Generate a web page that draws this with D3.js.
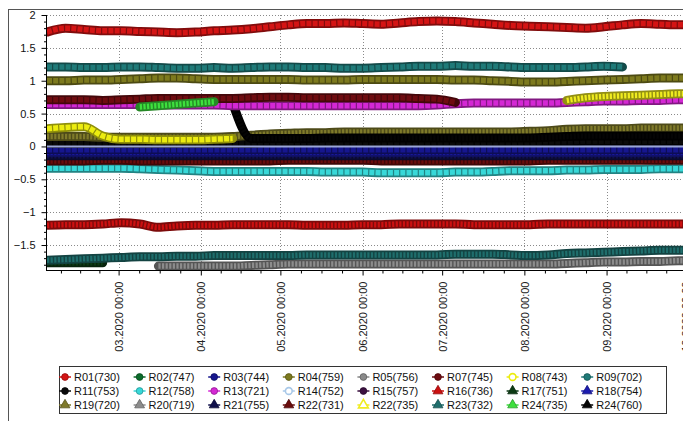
<!DOCTYPE html>
<html>
<head>
<meta charset="utf-8">
<script src="https://cdn.jsdelivr.net/npm/d3@7"></script>
<style>
body { margin: 0; background: #fff; }
svg { display: block; font-family: "Liberation Sans", Arial, sans-serif; }
</style>
</head>
<body>
<svg id="chart" width="683" height="421"></svg>
<script>
"use strict";

// weekly sample dates
var dates = ["2020-02-03","2020-02-10","2020-02-17","2020-02-24","2020-03-02","2020-03-09","2020-03-16","2020-03-23","2020-03-30",
	"2020-04-06","2020-04-13","2020-04-20","2020-04-27","2020-05-04","2020-05-11","2020-05-18","2020-05-25","2020-06-01",
	"2020-06-08","2020-06-15","2020-06-22","2020-06-29","2020-07-06","2020-07-13","2020-07-20","2020-07-27","2020-08-03",
	"2020-08-10","2020-08-17","2020-08-24","2020-08-31","2020-09-07","2020-09-14","2020-09-21","2020-09-28","2020-10-05"];

var r01 = [1.74,1.80,1.78,1.76,1.76,1.75,1.74,1.73,1.74,1.76,1.77,1.79,1.82,1.85,1.87,1.87,1.88,1.87,1.86,1.88,
	1.90,1.91,1.90,1.88,1.86,1.84,1.83,1.82,1.81,1.80,1.82,1.85,1.87,1.86,1.85,1.85];
var r09 = [1.21,1.21,1.20,1.20,1.21,1.21,1.20,1.19,1.19,1.20,1.19,1.20,1.21,1.21,1.20,1.20,1.19,1.19,1.20,1.21,
	1.22,1.22,1.23,1.22,1.22,1.21,1.20,1.20,1.20,1.21,1.22,1.21,null,null,null,null];
var r04 = [1.00,1.00,1.01,1.01,1.02,1.03,1.04,1.04,1.03,1.02,1.02,1.02,1.02,1.02,1.01,1.01,1.01,1.02,1.02,1.02,
	1.02,1.02,1.01,1.01,1.00,0.99,0.98,0.98,0.99,1.00,1.01,1.02,1.03,1.04,1.04,1.04];
var r07 = [0.71,0.71,0.71,0.70,0.71,0.72,0.73,0.73,0.73,0.73,0.73,0.74,0.75,0.75,0.74,0.74,0.74,0.74,0.74,0.74,
	0.73,0.72,0.67,null,null,null,null,null,null,null,null,null,null,null,null,null];
var r13 = [0.64,0.64,0.64,0.64,0.64,0.64,0.63,0.63,0.63,0.63,0.62,0.62,0.62,0.62,0.62,0.62,0.62,0.62,0.62,0.62,
	0.62,0.63,0.65,0.66,0.66,0.66,0.66,0.66,0.67,0.68,0.69,0.69,0.70,0.70,0.71,0.71];
var r24a = [null,null,null,null,null,0.60,0.62,0.64,0.66,0.68,null,null,null,null,null,null,null,null,null,null,
	null,null,null,null,null,null,null,null,null,null,null,null,null,null,null,null];
var r24b = [null,null,null,null,null,null,null,null,null,null,0.66,0.12,0.12,0.12,0.12,0.13,0.13,0.13,0.13,0.13,
	0.13,0.13,0.13,0.13,0.13,0.13,0.13,0.14,0.15,0.16,0.16,0.16,0.16,0.16,0.16,0.16];
var r11 = [0.05,0.05,0.05,0.05,0.05,0.05,0.05,0.05,0.05,0.05,0.05,0.05,0.06,0.06,0.06,0.06,0.06,0.06,0.06,0.06,
	0.06,0.06,0.06,0.06,0.06,0.06,0.06,0.07,0.07,0.08,0.08,0.08,0.08,0.08,0.08,0.08];
var r08 = [0.27,0.29,0.30,0.16,0.11,0.11,0.10,0.10,0.10,0.11,0.12,null,null,null,null,null,null,null,null,null,
	null,null,null,null,null,null,null,null,null,null,null,null,null,null,null,null];
var r22b = [null,null,null,null,null,null,null,null,null,null,null,null,null,null,null,null,null,null,null,null,
	null,null,null,null,null,null,null,null,0.70,0.74,0.76,0.77,0.78,0.79,0.80,0.80];
var r19 = [0.15,0.15,0.15,0.14,0.14,0.14,0.14,0.14,0.14,0.14,0.15,0.17,0.19,0.20,0.21,0.21,0.22,0.22,0.22,0.22,
	0.22,0.22,0.22,0.22,0.22,0.22,0.23,0.24,0.26,0.27,0.27,0.27,0.28,0.28,0.28,0.28];
var r14 = [0,0,0,0,0,0,0,0,0,0,0,0,0,0,0,0,0,0,0,0,0,0,0,0,0,0,0,0,0,0,0,0,0,0,0,0];
var r03 = [-0.05,-0.05,-0.05,-0.05,-0.05,-0.05,-0.05,-0.05,-0.05,-0.05,-0.05,-0.05,-0.05,-0.05,-0.05,-0.05,-0.05,-0.05,
	-0.05,-0.05,-0.05,-0.05,-0.05,-0.05,-0.05,-0.05,-0.05,-0.05,-0.05,-0.05,-0.05,-0.05,-0.05,-0.05,-0.05,-0.05];
var r18 = [-0.09,-0.09,-0.09,-0.09,-0.09,-0.09,-0.09,-0.09,-0.09,-0.09,-0.09,-0.09,-0.09,-0.09,-0.09,-0.09,-0.09,-0.09,
	-0.09,-0.09,-0.09,-0.09,-0.09,-0.09,-0.09,-0.09,-0.09,-0.09,-0.09,-0.09,-0.09,-0.09,-0.09,-0.09,-0.09,-0.09];
var r21 = [-0.14,-0.14,-0.14,-0.14,-0.14,-0.14,-0.14,-0.14,-0.14,-0.14,-0.14,-0.14,-0.14,-0.14,-0.14,-0.14,-0.14,-0.14,
	-0.14,-0.14,-0.14,-0.14,-0.14,-0.14,-0.14,-0.14,-0.14,-0.14,-0.14,-0.14,-0.14,-0.14,-0.14,-0.14,-0.14,-0.14];
var r22a = [-0.22,-0.22,-0.22,-0.21,-0.21,-0.22,-0.22,-0.22,-0.22,-0.22,-0.22,-0.22,-0.22,-0.21,-0.21,-0.21,-0.21,-0.21,
	-0.22,-0.22,-0.22,-0.22,-0.22,-0.22,-0.22,-0.22,-0.22,-0.21,-0.21,-0.21,-0.21,-0.21,-0.21,-0.21,-0.21,-0.21];
var r12 = [-0.33,-0.33,-0.33,-0.33,-0.33,-0.34,-0.35,-0.36,-0.37,-0.38,-0.38,-0.38,-0.38,-0.38,-0.38,-0.39,-0.39,-0.39,
	-0.40,-0.40,-0.40,-0.40,-0.39,-0.39,-0.38,-0.37,-0.37,-0.37,-0.36,-0.36,-0.35,-0.35,-0.35,-0.34,-0.34,-0.34];
var r16 = [-1.20,-1.19,-1.19,-1.18,-1.16,-1.18,-1.23,-1.21,-1.20,-1.20,-1.19,-1.19,-1.19,-1.19,-1.20,-1.20,-1.20,-1.19,
	-1.19,-1.18,-1.18,-1.18,-1.18,-1.19,-1.19,-1.19,-1.19,-1.18,-1.18,-1.18,-1.18,-1.18,-1.18,-1.18,-1.18,-1.18];
var r23 = [-1.73,-1.72,-1.71,-1.70,-1.69,-1.68,-1.68,-1.67,-1.67,-1.66,-1.66,-1.66,-1.66,-1.66,-1.65,-1.65,-1.65,-1.65,
	-1.65,-1.65,-1.65,-1.65,-1.64,-1.64,-1.64,-1.65,-1.66,-1.65,-1.63,-1.62,-1.61,-1.60,-1.59,-1.58,-1.58,-1.57];
var r20 = [null,null,null,null,null,null,-1.82,-1.82,-1.82,-1.82,-1.82,-1.81,-1.80,-1.79,-1.79,-1.79,-1.79,-1.79,
	-1.79,-1.79,-1.79,-1.79,-1.79,-1.79,-1.79,-1.79,-1.79,-1.79,-1.78,-1.77,-1.76,-1.76,-1.75,-1.75,-1.74,-1.74];
var r17 = [-1.77,-1.77,-1.77,-1.77,null,null,null,null,null,null,null,null,null,null,null,null,null,null,
	null,null,null,null,null,null,null,null,null,null,null,null,null,null,null,null,null,null];

var legendLabels = ["R01(730)","R02(747)","R03(744)","R04(759)","R05(756)","R07(745)","R08(743)","R09(702)",
	"R11(753)","R12(758)","R13(721)","R14(752)","R15(757)","R16(736)","R17(751)","R18(754)",
	"R19(720)","R20(719)","R21(755)","R22(731)","R22(735)","R23(732)","R24(735)","R24(760)"];

var yTicks = [2, 1.5, 1, 0.5, 0, -0.5, -1, -1.5];
var monthTicks = ["2020-03-01","2020-04-01","2020-05-01","2020-06-01","2020-07-01","2020-08-01","2020-09-01","2020-10-01"];

var seriesValues = {
	"R01(730)": r01, "R03(744)": r03, "R04(759)": r04, "R07(745)": r07, "R08(743)": r08, "R09(702)": r09,
	"R11(753)": r11, "R12(758)": r12, "R13(721)": r13, "R14(752)": r14, "R16(736)": r16, "R17(751)": r17,
	"R18(754)": r18, "R19(720)": r19, "R20(719)": r20, "R21(755)": r21, "R22(731)": r22a, "R22(735)": r22b,
	"R23(732)": r23, "R24(735)": r24a, "R24(760)": r24b
};

// bottom first
var drawOrder = ["R17(751)","R20(719)","R23(732)","R16(736)","R12(758)","R22(731)","R21(755)","R18(754)","R03(744)",
	"R11(753)","R19(720)","R24(760)","R08(743)","R13(721)","R07(745)","R24(735)","R22(735)","R04(759)","R09(702)",
	"R01(730)","R14(752)"];

var colors = {
	"R01(730)": "#d41414", "R02(747)": "#0b6b2b", "R03(744)": "#16168e", "R04(759)": "#7d7a1e", "R05(756)": "#8a8a8a",
	"R07(745)": "#6e0c10", "R08(743)": "#ecec10", "R09(702)": "#1f7a78", "R11(753)": "#0a0a0a", "R12(758)": "#38d8d8",
	"R13(721)": "#d428d4", "R14(752)": "#a8c8e8", "R15(757)": "#3c1040", "R16(736)": "#cc1010", "R17(751)": "#0c3a14",
	"R18(754)": "#1c1cb0", "R19(720)": "#7f7a2a", "R20(719)": "#8c8c8c", "R21(755)": "#10104c", "R22(731)": "#6a0c0c",
	"R22(735)": "#f0ec20", "R23(732)": "#1f6e6c", "R24(735)": "#3ee03e", "R24(760)": "#050505"
};

var W = 683, H = 421;
var plotLeft = 47, plotTop = 15, plotBottom = 270;
var parse = d3.utcParse("%Y-%m-%d");

var x = d3.scaleUtc()
	.domain([parse("2020-02-03"), parse("2020-10-10")])
	.range([plotLeft, plotLeft + 250 * 2.652]);
var y = d3.scaleLinear().domain([-1.88, 2]).range([plotBottom, plotTop]);

var svg = d3.select("#chart");
svg.append("rect").attr("width", W).attr("height", H).attr("fill", "#fff");

// outer frame
svg.append("rect").attr("x", 8.5).attr("y", 9.5).attr("width", 720).attr("height", 460)
	.attr("fill", "none").attr("stroke", "#555");

svg.append("defs").append("clipPath").attr("id", "plotclip")
	.append("rect").attr("x", plotLeft).attr("y", plotTop).attr("width", 700).attr("height", plotBottom - plotTop);

// grid
var grid = svg.append("g").attr("stroke", "#8a8a8a").attr("stroke-dasharray", "1,2").attr("stroke-width", 1);
grid.selectAll("line.h").data(yTicks).enter().append("line")
	.attr("x1", plotLeft).attr("x2", W).attr("y1", function(d) { return Math.round(y(d)) + 0.5; })
	.attr("y2", function(d) { return Math.round(y(d)) + 0.5; });
grid.selectAll("line.v").data(monthTicks).enter().append("line")
	.attr("y1", plotTop).attr("y2", plotBottom)
	.attr("x1", function(d) { return Math.round(x(parse(d))) + 0.5; })
	.attr("x2", function(d) { return Math.round(x(parse(d))) + 0.5; });

// series
var line = d3.line()
	.defined(function(d) { return d.v !== null; })
	.x(function(d) { return x(d.t); })
	.y(function(d) { return y(d.v); })
	.curve(d3.curveMonotoneX);

var triangles = ["R16","R17","R18","R19","R20","R21","R22","R23","R24"];
function isTriangle(name) { return triangles.indexOf(name.slice(0, 3)) >= 0; }

var plot = svg.append("g").attr("clip-path", "url(#plotclip)");
drawOrder.forEach(function(name) {
	var pts = dates.map(function(s, i) { return {t: parse(s), v: seriesValues[name][i]}; });
	var c = colors[name];
	if (name === "R14(752)") {
		plot.append("path").attr("d", line(pts)).attr("fill", "none")
			.attr("stroke", "#9aa6d6").attr("stroke-width", 2);
		return;
	}
	var dark = name === "R24(760)" || name === "R11(753)" ? "#000" : d3.color(c).darker(1.4).formatHex();
	plot.append("path").attr("d", line(pts)).attr("fill", "none")
		.attr("stroke", dark).attr("stroke-width", 9)
		.attr("stroke-linecap", "round").attr("stroke-linejoin", "round");
	plot.append("path").attr("d", line(pts)).attr("fill", "none")
		.attr("stroke", c).attr("stroke-width", 5.5)
		.attr("stroke-dasharray", isTriangle(name) ? "2.2,1.4" : "5,1.2")
		.attr("stroke-linecap", "butt").attr("stroke-linejoin", "round");
});

// axes
svg.append("line").attr("x1", plotLeft - 0.5).attr("x2", plotLeft - 0.5).attr("y1", plotTop).attr("y2", plotBottom + 1).attr("stroke", "#000");
svg.append("line").attr("x1", plotLeft - 1).attr("x2", W).attr("y1", plotBottom + 0.5).attr("y2", plotBottom + 0.5).attr("stroke", "#000");

var yAxis = svg.append("g").attr("transform", "translate(" + (plotLeft - 0.5) + ",0)")
	.call(d3.axisLeft(y).tickValues(yTicks).tickSize(5).tickPadding(6).tickFormat(d3.format("")));
yAxis.select(".domain").remove();
yAxis.selectAll("text").attr("font-size", 11).attr("fill", "#111").attr("font-family", "Liberation Sans, Arial, sans-serif");

var yMinor = d3.range(-18, 20).map(function(d) { return d / 10; }).filter(function(d) { return yTicks.indexOf(d) < 0; });
svg.append("g").attr("transform", "translate(" + (plotLeft - 0.5) + ",0)")
	.call(d3.axisLeft(y).tickValues(yMinor).tickSize(2.5).tickFormat(""))
	.select(".domain").remove();

var xMajor = monthTicks.map(parse);
var xMinor = [];
var prevMonth = [parse("2020-02-01")].concat(xMajor);
for (var i = 0; i < prevMonth.length - 1; i++) {
	for (var k = 1; k < 4; k++) {
		xMinor.push(new Date(+prevMonth[i] + (prevMonth[i + 1] - prevMonth[i]) * k / 4));
	}
}
svg.append("g").attr("transform", "translate(0," + (plotBottom + 0.5) + ")")
	.call(d3.axisBottom(x).tickValues(xMinor).tickSize(3).tickFormat(""))
	.select(".domain").remove();

var fmt = d3.utcFormat("%m.%Y %H:%M");
var xAxis = svg.append("g").attr("transform", "translate(0," + (plotBottom + 0.5) + ")")
	.call(d3.axisBottom(x).tickValues(xMajor).tickSize(5).tickFormat(fmt));
xAxis.select(".domain").remove();
xAxis.selectAll("text")
	.attr("font-size", 11).attr("fill", "#222").attr("font-family", "Liberation Sans, Arial, sans-serif")
	.attr("text-anchor", "end")
	.attr("transform", "rotate(-90)")
	.attr("x", -11).attr("y", 0).attr("dy", "0.35em");

// legend
var legend = svg.append("g");
legend.append("rect").attr("x", 59.5).attr("y", 366.5).attr("width", 607).attr("height", 47)
	.attr("fill", "#fff").attr("stroke", "#333");

var item = legend.selectAll("g.item").data(legendLabels).enter().append("g")
	.attr("transform", function(d, i) {
		return "translate(" + (65 + (i % 8) * 74.6) + "," + (377 + Math.floor(i / 8) * 14) + ")";
	});
item.append("line").attr("x1", -6).attr("x2", 6)
	.attr("stroke", function(d) { return colors[d]; }).attr("stroke-width", 1.5);
var hollow = ["R08(743)", "R14(752)", "R22(735)"];
item.append("path")
	.attr("d", function(d) {
		return isTriangle(d) ? d3.symbol(d3.symbolTriangle, 42)() : d3.symbol(d3.symbolCircle, 36)();
	})
	.attr("fill", function(d) { return hollow.indexOf(d) >= 0 ? "#fff" : colors[d]; })
	.attr("stroke", function(d) { return hollow.indexOf(d) >= 0 ? colors[d] : d3.color(colors[d]).darker(1).formatHex(); })
	.attr("stroke-width", function(d) { return hollow.indexOf(d) >= 0 ? 1.6 : 0.8; });
item.append("text").attr("x", 9).attr("dy", "0.36em")
	.attr("font-size", 11).attr("fill", "#111")
	.text(function(d) { return d; });
</script>
</body>
</html>
